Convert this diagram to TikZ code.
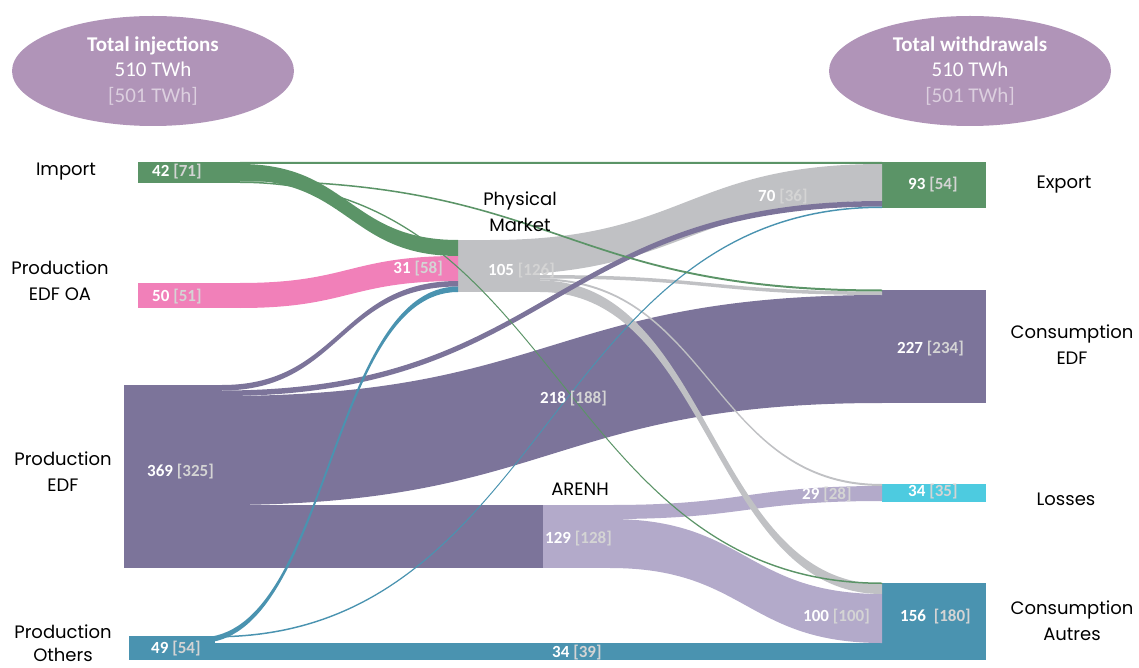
\documentclass[tikz,border=0pt]{standalone}
\usepackage{fontspec}
\setmainfont{Carlito}
\newfontfamily\labfont{Poppins}
\usetikzlibrary{shapes.geometric}

\definecolor{impgreen}{HTML}{5B9467}
\definecolor{oapink}{HTML}{F180B9}
\definecolor{edfpurple}{HTML}{7C749A}
\definecolor{arenhlilac}{HTML}{B3AACA}
\definecolor{pmgrey}{HTML}{C0C1C4}
\definecolor{othteal}{HTML}{4A93B0}
\definecolor{losscyan}{HTML}{4DCBE0}
\definecolor{totmauve}{HTML}{B094B8}
\definecolor{brk}{HTML}{D4D4D4}

\newcommand{\twh}[2]{\textbf{#1} \textbf{\color{brk}[#2]}}
\newcommand{\sflow}[7]{%
  \pgfmathsetmacro{\xm}{(#2+#5)/2}%
  \fill[#1] (#2,#3) .. controls (\xm,#3) and (\xm,#6) .. (#5,#6) -- (#5,#7)
    .. controls (\xm,#7) and (\xm,#4) .. (#2,#4) -- cycle;}

\begin{document}
\begin{tikzpicture}[x=1pt,y=-1pt,
    val/.style={inner sep=0pt, text=white, font=\fontsize{17}{20}\selectfont},
    lab/.style={inner sep=0pt, align=center, font=\labfont\fontsize{18}{26}\selectfont},
    tot/.style={ellipse, fill=totmauve, inner sep=0pt, minimum width=282pt, minimum height=110pt,
      align=center, text=white, font=\fontsize{21}{25.5}\selectfont}]
    \useasboundingbox (0,0) rectangle (1139,668);

    % totals
    \node[tot] (totin) at (153,71) {\textbf{Total injections}\\510 TWh\\{\color{white!55!totmauve}[501 TWh]}};
    \node[tot] (totout) at (970,71) {\textbf{Total withdrawals}\\510 TWh\\{\color{white!55!totmauve}[501 TWh]}};

    % node bars
    \foreach \c/\xa/\ya/\xb/\yb in {impgreen/138/162/240/183, oapink/138/283/240/308,
        edfpurple/124/385/222/568, edfpurple/222/505/543/568, arenhlilac/543/505/610/568,
        othteal/129/636/215/660, othteal/215/643/882/660, pmgrey/458/240/540/292,
        impgreen/882/162/986/208, edfpurple/882/290/986/403, losscyan/882/484/986/502,
        othteal/882/583/986/660}
      \fill[\c] (\xa,\ya) rectangle (\xb,\yb);

    % flows
    \foreach \c/\xa/\ta/\ba/\xb/\tb/\bb in {
        edfpurple/222/396/505/882/295/403,
        arenhlilac/610/505/519/882/486/501,
        arenhlilac/610/519/568/882/594/643,
        oapink/240/283/308/458/256/281,
        impgreen/240/164/180/458/240/256,
        pmgrey/490/240/275/882/164/201,
        pmgrey/540/275/278.5/882/291.5/295,
        pmgrey/540/278.5/280.5/882/484/486,
        pmgrey/540/280.5/292/882/584/594,
        edfpurple/222/385/390.5/458/281/286.5,
        edfpurple/222/390.5/396/882/201/206.5,
        othteal/200/637.5/643/458/286.5/292,
        othteal/215/636/637.5/882/206.5/208,
        impgreen/240/162/164/882/162/164,
        impgreen/240/180/181.5/882/289.5/291.5,
        impgreen/240/181.5/183/882/582.5/584}
      {\sflow{\c}{\xa}{\ta}{\ba}{\xb}{\tb}{\bb}}

    % values
    \node[val, anchor=west] (vimp) at (152,172) {\twh{42}{71}};
    \node[val, anchor=west] (voa) at (152,297) {\twh{50}{51}};
    \node[val, anchor=west] (vedf) at (147,472) {\twh{369}{325}};
    \node[val, anchor=west] (voth) at (151,649) {\twh{49}{54}};
    \node[val, anchor=east] (voapm) at (443,269) {\twh{31}{58}};
    \node[val, anchor=west] (vpm) at (488,271) {\twh{105}{126}};
    \node[val, anchor=west] (vpmexp) at (758,197) {\twh{70}{36}};
    \node[val, anchor=west] (vedfcons) at (540,399) {\twh{218}{188}};
    \node[val, anchor=west] (varenh) at (545,539) {\twh{129}{128}};
    \node[val, anchor=west] (varloss) at (802,495) {\twh{29}{28}};
    \node[val, anchor=west] (varaut) at (803,617) {\twh{100}{100}};
    \node[val, anchor=west] (vothaut) at (552,653) {\twh{34}{39}};
    \node[val, anchor=west] (vexp) at (908,185) {\twh{93}{54}};
    \node[val, anchor=west] (vcedf) at (897,349) {\twh{227}{234}};
    \node[val, anchor=west] (vloss) at (908,492) {\twh{34}{35}};
    \node[val, anchor=west] (vaut) at (900,617) {\twh{156\ }{180}};

    % labels
    \node[lab] (limp) at (66,172) {Import};
    \node[lab] (loa) at (60,281) {Production\\EDF OA};
    \node[lab] (ledf) at (63,472) {Production\\EDF};
    \node[lab, font=\labfont\fontsize{18}{23}\selectfont] (loth) at (63,643) {Production\\Others};
    \node[lab] (lpm) at (520,212) {Physical\\Market};
    \node[lab] (larenh) at (580,489) {ARENH};
    \node[lab] (lexp) at (1064,185) {Export};
    \node[lab] (lcedf) at (1072,345) {Consumption\\EDF};
    \node[lab] (lloss) at (1066,499) {Losses};
    \node[lab] (laut) at (1072,621) {Consumption\\Autres};
\end{tikzpicture}
\end{document}
